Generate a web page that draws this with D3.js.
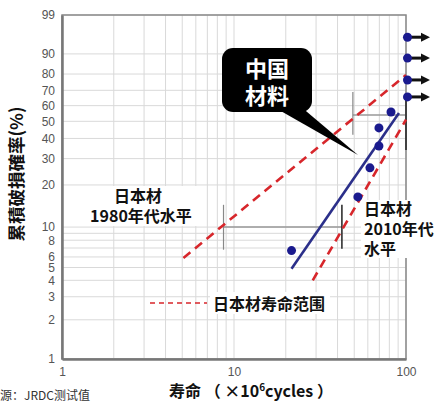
<!DOCTYPE html>
<html>
<head>
<meta charset="utf-8">
<script src="https://cdn.jsdelivr.net/npm/d3@7"></script>
<style>
  body { margin: 0; background: #fff; }
  text { font-family: "Noto Sans CJK SC", "Noto Sans", sans-serif; }
</style>
</head>
<body>
<div id="chart"></div>
<script>
// measured lives (x10^6 cycles) and cumulative failure probability (%)
const lifeCycles = [21.6, 52.5, 61.7, 69.6, 69.6, 81.8, 102, 102, 102, 102];
const failPct    = [6.7, 16.5, 26.1, 36.0, 46.0, 55.9, 65.7, 76.5, 88.2, 95.5];
const censored   = [false, false, false, false, false, false, true, true, true, true];

// weibull fit of chinese material
const fitLife = [21.6, 91];
const fitPct  = [4.9, 55.2];

// japanese material life range (two dashed bounds)
const lowLife  = [5.08, 100];
const lowPct   = [5.9, 79.4];
const highLife = [28.7, 100];
const highPct  = [4.0, 51];

const yTicks = [1, 2, 3, 4, 5, 6, 7, 8, 9, 10, 20, 30, 40, 50, 60, 70, 80, 90, 99];
const yLabels = [1, 2, 3, 4, 5, 6, 8, 10, 20, 30, 40, 50, 60, 70, 80, 90, 99];
const xTicks = [1, 2, 3, 4, 5, 6, 7, 8, 9, 10, 20, 30, 40, 50, 60, 70, 80, 90, 100];
const xLabels = [1, 10, 100];

const width = 439;
const height = 403;
const margin = {top: 15, right: 33, bottom: 44, left: 62};

// weibull probability transform
const wb = p => Math.log(-Math.log(1 - p / 100));

const svg = d3.select('#chart')
    .append('svg')
    .attr('width', width)
    .attr('height', height);

const x = d3.scaleLog()
    .domain([1, 100])
    .range([margin.left, width - margin.right]);

const yw = d3.scaleLinear()
    .domain([wb(1), wb(99)])
    .range([height - margin.bottom, margin.top]);
const y = p => yw(wb(p));

// grid
svg.append('g')
    .attr('stroke', '#d9d9d9')
    .attr('stroke-width', 1)
    .selectAll('line.v')
    .data(xTicks)
    .join('line')
        .attr('x1', d => x(d)).attr('x2', d => x(d))
        .attr('y1', margin.top).attr('y2', height - margin.bottom);

svg.append('g')
    .attr('stroke', '#d9d9d9')
    .attr('stroke-width', 1)
    .selectAll('line.h')
    .data(yTicks)
    .join('line')
        .attr('x1', margin.left).attr('x2', width - margin.right)
        .attr('y1', d => y(d)).attr('y2', d => y(d));

// frame
svg.append('rect')
    .attr('x', margin.left).attr('y', margin.top)
    .attr('width', x(100) - x(1)).attr('height', y(1) - y(99))
    .attr('fill', 'none').attr('stroke', '#888').attr('stroke-width', 1.5);

// axes (labels only, frame is drawn above)
const yAxis = svg.append('g')
    .attr('transform', `translate(${margin.left},0)`)
    .call(d3.axisLeft(yw).tickValues(yLabels.map(wb))
        .tickFormat((d, i) => yLabels[i]).tickSize(0).tickPadding(7));
yAxis.select('.domain').attr('stroke', '#777').attr('stroke-width', 2.5);
yAxis.selectAll('text').attr('fill', '#555').attr('font-size', 12)
    .style('font-family', 'Liberation Sans, Arial, sans-serif');

const xAxis = svg.append('g')
    .attr('transform', `translate(0,${height - margin.bottom})`)
    .call(d3.axisBottom(x).tickValues(xLabels).tickFormat(d3.format('d')).tickSize(0).tickPadding(8));
xAxis.select('.domain').attr('stroke', '#777').attr('stroke-width', 2.5);
xAxis.selectAll('text').attr('fill', '#555').attr('font-size', 12)
    .style('font-family', 'Liberation Sans, Arial, sans-serif');

// range brackets B10 / B50
const brackets = [
    {h: 10, from: 8.69, to: 42.4, l: [6.8, 14.5], r: [6.9, 14.5]},
    {h: 54, from: 49.1, to: 100, l: [42, 68.9], r: [34, 63.7]}
];
brackets.forEach(b => {
    svg.append('line')
        .attr('x1', x(b.from)).attr('x2', x(b.to))
        .attr('y1', y(b.h)).attr('y2', y(b.h))
        .attr('stroke', '#999').attr('stroke-width', 1.5);
    svg.append('line')
        .attr('x1', x(b.from)).attr('x2', x(b.from))
        .attr('y1', y(b.l[0])).attr('y2', y(b.l[1]))
        .attr('stroke', '#888').attr('stroke-width', 1.2);
    svg.append('line')
        .attr('x1', x(b.to)).attr('x2', x(b.to))
        .attr('y1', y(b.r[0])).attr('y2', y(b.r[1]))
        .attr('stroke', '#222').attr('stroke-width', 1.5);
});

// white boxes behind labels
svg.append('rect').attr('x', 88).attr('y', 186).attr('width', 116).attr('height', 40).attr('fill', '#fff');
svg.append('rect').attr('x', 361).attr('y', 200).attr('width', 78).attr('height', 58).attr('fill', '#fff');
svg.append('rect').attr('x', 210).attr('y', 292).attr('width', 120).attr('height', 22).attr('fill', '#fff');

// japanese range lines
const line = d3.line().x(d => x(d[0])).y(d => y(d[1]));
[[lowLife, lowPct], [highLife, highPct]].forEach(([l, p]) => {
    svg.append('path')
        .attr('d', line(d3.zip(l, p)))
        .attr('fill', 'none')
        .attr('stroke', '#d7262b')
        .attr('stroke-width', 2.6)
        .attr('stroke-dasharray', '9,6');
});

// fit line
svg.append('path')
    .attr('d', line(d3.zip(fitLife, fitPct)))
    .attr('fill', 'none')
    .attr('stroke', '#2b2f8a')
    .attr('stroke-width', 2.6);

// arrows for suspended tests
svg.append('defs').append('marker')
    .attr('id', 'arr').attr('viewBox', '0 0 10 10')
    .attr('refX', 5).attr('refY', 5)
    .attr('markerWidth', 3).attr('markerHeight', 3.4)
    .attr('orient', 'auto')
    .append('path').attr('d', 'M0,0L10,5L0,10z').attr('fill', '#111');

const pts = d3.zip(lifeCycles, failPct, censored);
svg.append('g')
    .selectAll('line')
    .data(pts.filter(d => d[2]))
    .join('line')
        .attr('x1', d => x(d[0])).attr('x2', d => x(d[0]) + 18)
        .attr('y1', d => y(d[1])).attr('y2', d => y(d[1]))
        .attr('stroke', '#111').attr('stroke-width', 3)
        .attr('marker-end', 'url(#arr)');

svg.append('g')
    .attr('fill', '#1a1a8e')
    .selectAll('circle')
    .data(pts)
    .join('circle')
        .attr('cx', d => x(d[0]))
        .attr('cy', d => y(d[1]))
        .attr('r', 4.5);

// callout
svg.append('path')
    .attr('d', 'M272,106L300,106L358,155Z')
    .attr('fill', '#000');
svg.append('rect')
    .attr('x', 222).attr('y', 48).attr('width', 90).attr('height', 64)
    .attr('rx', 11).attr('fill', '#000');
svg.append('text').attr('x', 267).attr('y', 77).attr('text-anchor', 'middle')
    .attr('fill', '#fff').attr('font-size', 22).attr('font-weight', 'bold').text('中国');
svg.append('text').attr('x', 267).attr('y', 104).attr('text-anchor', 'middle')
    .attr('fill', '#fff').attr('font-size', 22).attr('font-weight', 'bold').text('材料');

// labels
const label = (tx, ty, s, anchor) => svg.append('text')
    .attr('x', tx).attr('y', ty).attr('text-anchor', anchor || 'middle')
    .attr('font-size', 16).attr('font-weight', 'bold').attr('fill', '#111').text(s);
label(138, 202, '日本材');
label(141, 222, '1980年代水平');
label(364, 215, '日本材', 'start');
label(364, 235, '2010年代', 'start');
label(364, 255, '水平', 'start');

svg.append('line')
    .attr('x1', 150).attr('x2', 207).attr('y1', 303).attr('y2', 303)
    .attr('stroke', '#d7262b').attr('stroke-width', 1.6).attr('stroke-dasharray', '5,4');
label(213, 310, '日本材寿命范围', 'start');

// axis titles
svg.append('text')
    .attr('transform', 'translate(23,174) rotate(-90)')
    .attr('text-anchor', 'middle')
    .attr('font-size', 17.5).attr('font-weight', 'bold').attr('fill', '#111')
    .text('累積破損確率(%)');

const xt = svg.append('text')
    .attr('x', 169).attr('y', 397)
    .attr('font-size', 16).attr('font-weight', 'bold').attr('fill', '#111');
xt.append('tspan').text('寿命 （ ×10');
xt.append('tspan').attr('font-size', 10).attr('dy', -6).text('6');
xt.append('tspan').attr('dy', 6).text('cycles ）');

svg.append('text')
    .attr('x', 90).attr('y', 400).attr('text-anchor', 'end')
    .attr('font-size', 12).attr('fill', '#333')
    .text('来源：JRDC测试值');
</script>
</body>
</html>
